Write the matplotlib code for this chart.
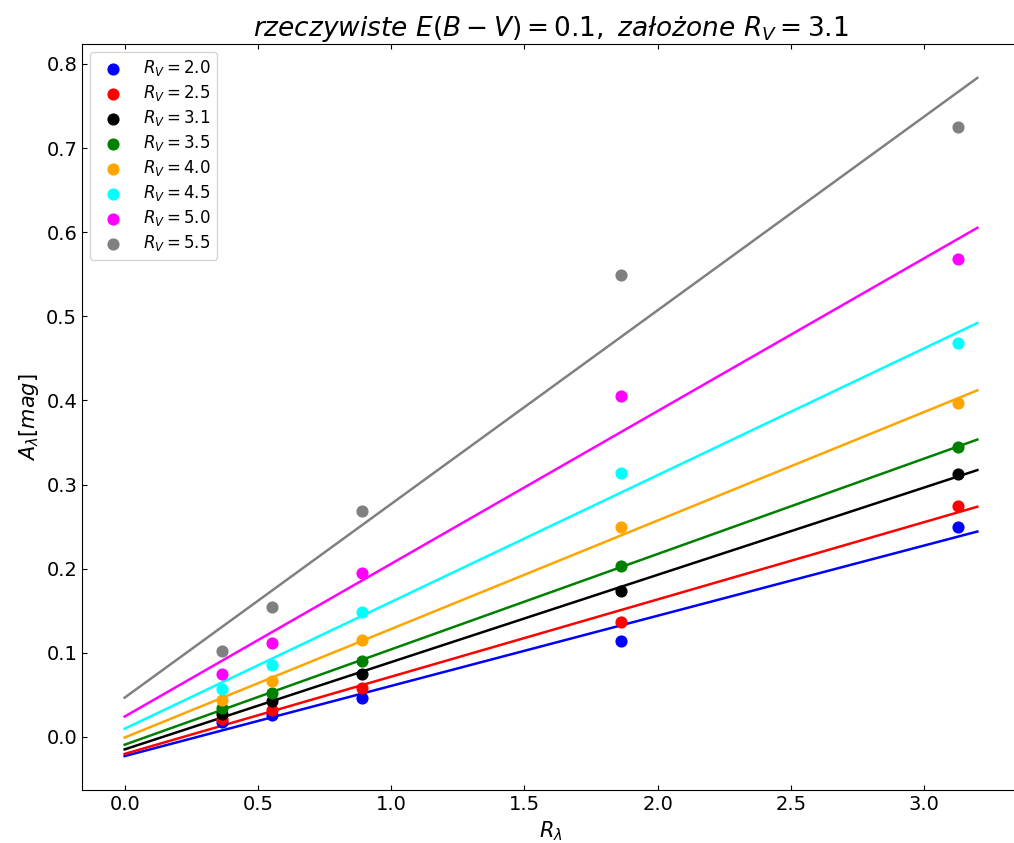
import numpy as np
import matplotlib
matplotlib.use('Agg')
import matplotlib.pyplot as plt

# R_lambda dla filtrow
R_lam = [0.364, 0.552, 0.892, 1.861, 3.128]

R_V = ['2.0', '2.5', '3.1', '3.5', '4.0', '4.5', '5.0', '5.5']
kolory = ['blue', 'red', 'black', 'green', 'orange', 'cyan', 'magenta', 'grey']

# A_lambda [mag] odczytane dla kolejnych R_V
A_20 = [0.018, 0.026, 0.046, 0.114, 0.249]
A_25 = [0.021, 0.032, 0.058, 0.137, 0.275]
A_31 = [0.027, 0.043, 0.075, 0.173, 0.313]
A_35 = [0.034, 0.052, 0.090, 0.203, 0.345]
A_40 = [0.044, 0.067, 0.115, 0.250, 0.397]
A_45 = [0.057, 0.086, 0.148, 0.314, 0.468]
A_50 = [0.075, 0.112, 0.195, 0.405, 0.568]
A_55 = [0.102, 0.154, 0.268, 0.549, 0.725]
A_all = [A_20, A_25, A_31, A_35, A_40, A_45, A_50, A_55]

x_fit = np.linspace(0, 3.2, 50)

fig = plt.figure(figsize=(10.14, 8.43), dpi=100)
# os x wychodzi troche poza prawa krawedz obrazka (jak w oryginale)
ax = fig.add_axes([82/1014, 53/843, 938/1014, 746/843])

for rv, c, A in zip(R_V, kolory, A_all):
	ax.scatter(R_lam, A, color=c, s=60, label=r'$R_V = %s$' % rv, zorder=3)
	a, b = np.polyfit(R_lam, A, 1)
	ax.plot(x_fit, a*x_fit + b, color=c, lw=1.8)

ax.set_xlim(-0.16, 3.36)
ax.spines['right'].set_visible(False)
ax.tick_params(direction='in', top=True, right=True, labelsize=14)
ax.set_xlabel(r'$R_\lambda$', fontsize=15)
ax.set_ylabel(r'$A_\lambda [mag]$', fontsize=15)
ax.set_title(r'$rzeczywiste\ E(B-V) = 0.1,\ założone\ R_V = 3.1$', fontsize=19)
ax.legend(loc='upper left', fontsize=12, labelspacing=0.3, borderaxespad=0.45)

fig.savefig('out.png')
